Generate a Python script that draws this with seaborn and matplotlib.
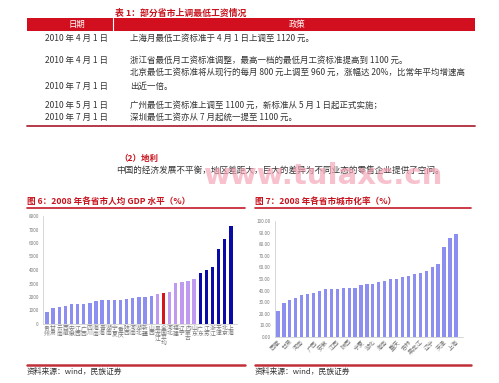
import matplotlib
matplotlib.use('Agg')
import matplotlib.pyplot as plt
import seaborn as sns
import pandas as pd
from matplotlib.patches import Rectangle
from matplotlib.lines import Line2D

sns.set_style('white')
plt.rcParams['font.family'] = ['Noto Sans CJK SC', 'DejaVu Sans']

W, H = 499, 383

# ---- table 1 text ----
table_title = '表 1：部分省市上调最低工资情况'
table_header = ['日期', '政策']
table_dates = ['2010 年 4 月 1 日', '2010 年 4 月 1 日', '2010 年 7 月 1 日',
               '2010 年 5 月 1 日', '2010 年 7 月 1 日']
table_policy = ['上海月最低工资标准于 4 月 1 日上调至 1120 元。',
                '浙江省最低月工资标准调整，最高一档的最低月工资标准提高到 1100 元。',
                '北京最低工资标准将从现行的每月 800 元上调至 960 元，涨幅达 20%，比常年平均增速高',
                '出近一倍。',
                '广州最低工资标准上调至 1100 元，新标准从 5 月 1 日起正式实施；',
                '深圳最低工资亦从 7 月起统一提至 1100 元。']
section_title = '（2）地利'
section_text = '中国的经济发展不平衡，地区差距大，巨大的差异为不同业态的零售企业提供了空间。'
watermark = 'www.tulaxc.cn'
source_text = '资料来源：wind，民族证券'

# ---- figure 6: per-capita GDP 2008 ----
fig6_title = '图 6：2008 年各省市人均 GDP 水平（%）'
gdp_regions = ['贵州', '甘肃', '云南', '西藏', '安徽', '江西', '广西', '四川', '海南',
               '青海', '湖南', '宁夏', '重庆', '陕西', '河南', '湖北', '新疆', '山西',
               '黑龙江', '全国平均', '河北', '福建', '辽宁', '内蒙古', '山东', '广东',
               '江苏', '浙江', '天津', '北京', '上海']
gdp_values = [900, 1200, 1250, 1350, 1450, 1500, 1500, 1550, 1700, 1750, 1750,
              1800, 1800, 1850, 1950, 2000, 2000, 2050, 2200, 2300, 2400, 3050,
              3100, 3200, 3350, 3800, 4000, 4200, 5550, 6300, 7250]
gdp_group = ['low'] * 18 + ['mid', 'avg'] + ['mid'] * 5 + ['high'] * 6
gdp_ticks = list(range(0, 8001, 1000))

# ---- figure 7: urbanization rate 2008 ----
fig7_title = '图 7：2008 年各省市城市化率（%）'
urb_regions = ['西藏', '贵州', '甘肃', '云南', '河南', '四川', '广西', '新疆', '安徽',
               '青海', '江西', '河北', '陕西', '湖南', '宁夏', '山西', '湖北', '山东',
               '海南', '福建', '重庆', '内蒙古', '吉林', '江苏', '黑龙江', '浙江',
               '辽宁', '广东', '天津', '北京', '上海']
urb_values = [22.6, 29.0, 32.0, 33.5, 36.0, 37.5, 38.0, 40.0, 41.0, 41.0, 41.5,
              42.0, 42.0, 42.5, 45.0, 45.5, 45.5, 47.5, 48.0, 50.0, 50.0, 51.5,
              53.0, 54.0, 55.0, 57.0, 60.0, 63.0, 77.5, 85.0, 88.5]
urb_ticks = list(range(0, 101, 10))

group_colors = {'low': '#8c8ef0', 'mid': '#c09af0', 'avg': '#d8141c', 'high': '#0a0aa8'}
RED = '#c8141e'
TXT = '#333333'


def fx(x):
    return x / W


def fy(y):
    return 1 - y / H


fig = plt.figure(figsize=(W / 100, H / 100), dpi=100)
fig.patch.set_facecolor('white')


def ftext(x, y, s, **kw):
    kw.setdefault('va', 'center')
    kw.setdefault('color', TXT)
    fig.text(fx(x), fy(y), s, **kw)


def hline(x0, x1, y, color, lw):
    fig.add_artist(Line2D([fx(x0), fx(x1)], [fy(y), fy(y)], color=color, lw=lw,
                          transform=fig.transFigure))


# table 1
ftext(181, 13, table_title, ha='center', fontsize=6.4, color=RED, fontweight='bold')
fig.add_artist(Rectangle((fx(27), fy(31)), (475 - 27) / W, 13 / H,
                         transform=fig.transFigure, color='#d20f1e', lw=0))
fig.add_artist(Line2D([fx(113), fx(113)], [fy(31), fy(18)], color='white', lw=0.8,
                      transform=fig.transFigure))
ftext(77, 24.5, table_header[0], ha='center', fontsize=6, color='white')
ftext(297, 24.5, table_header[1], ha='center', fontsize=6, color='white')
for d, y in zip(table_dates, [38, 60, 86, 105, 117.5]):
    ftext(45, y, d, fontsize=6.1)
for p, y in zip(table_policy, [38, 60, 72.5, 86, 105, 117.5]):
    ftext(130, y, p, fontsize=6.1)
hline(27, 475, 125.5, '#b02a3a', 1.3)

ftext(119, 158, section_title, fontsize=6.1, color=RED, fontweight='bold')
ftext(116, 170, section_text, fontsize=6.2)
fig.text(fx(324), fy(184), watermark, ha='center', va='baseline', fontsize=21,
         fontweight='bold', color='#f4a0b2', alpha=0.65, family='DejaVu Sans')

# chart titles and rules
ftext(27, 201, fig6_title, fontsize=6.2, color=RED, fontweight='bold')
ftext(255, 201, fig7_title, fontsize=6.2, color=RED, fontweight='bold')
hline(27, 245, 208, '#c41a28', 1.2)
hline(255, 471, 208, '#c41a28', 1.2)
hline(27, 245, 365, '#c03038', 1.8)
hline(255, 471, 365, '#c03038', 1.8)
ftext(27, 372, source_text, fontsize=5.6)
ftext(255, 372, source_text, fontsize=5.6)


def style_axes(ax):
    for side in ['top', 'right']:
        ax.spines[side].set_visible(False)
    for side in ['left', 'bottom']:
        ax.spines[side].set_color('#c8c8c8')
        ax.spines[side].set_linewidth(0.5)
    ax.tick_params(axis='y', length=1.5, width=0.4, color='#c8c8c8', pad=1.5,
                   labelsize=3.3, labelcolor='#777777')
    ax.tick_params(axis='x', length=0, pad=1.5, labelcolor='#777777')
    ax.set_xlabel('')
    ax.set_ylabel('')
    ax.set_facecolor('white')


# chart 6
ax6 = fig.add_axes([fx(43), fy(324), (237 - 43) / W, (324 - 216) / H])
df6 = pd.DataFrame({'region': ['\n'.join(r) for r in gdp_regions],
                    'value': gdp_values, 'group': gdp_group})
sns.barplot(data=df6, x='region', y='value', hue='group', palette=group_colors,
            width=0.55, dodge=False, legend=False, saturation=1, linewidth=0,
            ax=ax6)
ax6.set_ylim(0, 8000)
ax6.set_xlim(-0.65, 31)
ax6.set_yticks(gdp_ticks)
ax6.set_yticklabels([str(t) for t in gdp_ticks])
style_axes(ax6)
ax6.tick_params(axis='x', labelsize=4.2)
for lab in ax6.get_xticklabels():
    lab.set_linespacing(1.0)
    lab.set_va('top')

# chart 7
ax7 = fig.add_axes([fx(275), fy(337), (463 - 275) / W, (337 - 221) / H])
df7 = pd.DataFrame({'region': urb_regions, 'value': urb_values})
sns.barplot(data=df7, x='region', y='value', color='#8c8ef0', width=0.55,
            saturation=1, linewidth=0, ax=ax7)
ax7.set_ylim(0, 100)
ax7.set_xlim(-0.5, 31.2)
ax7.set_yticks(urb_ticks)
ax7.set_yticklabels(['%.2f' % t for t in urb_ticks])
style_axes(ax7)
ax7.set_xticks(range(len(urb_regions)))
ax7.set_xticklabels([r if i % 2 == 0 else '' for i, r in enumerate(urb_regions)],
                    rotation=45, ha='right', rotation_mode='anchor', fontsize=4.3)

fig.savefig('out.png', dpi=100, facecolor='white')
